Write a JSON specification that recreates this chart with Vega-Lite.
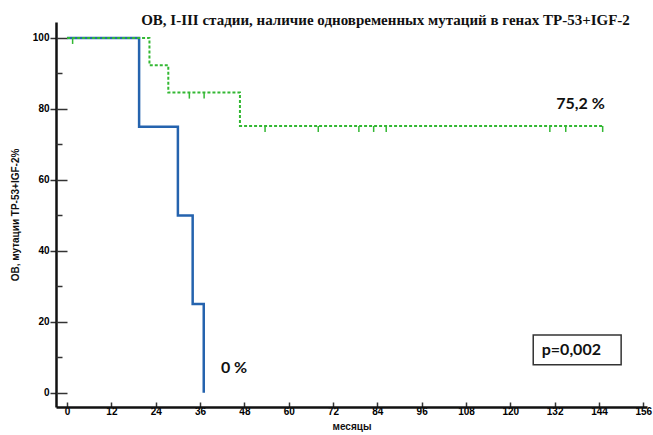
{
  "$schema": "https://vega.github.io/schema/vega-lite/v6.json",
  "width": 591,
  "height": 385,
  "autosize": "none",
  "padding": {"left": 56, "top": 22, "right": 6, "bottom": 28},
  "background": "white",
  "title": {
    "text": "ОВ, I-III  стадии, наличие одновременных мутаций в генах TP-53+IGF-2",
    "font": "Liberation Serif",
    "fontSize": 15,
    "fontWeight": "bold",
    "color": "#111",
    "anchor": "middle",
    "dx": 34,
    "offset": -6
  },
  "config": {
    "view": {"stroke": null},
    "axis": {
      "labelFont": "Liberation Sans",
      "labelFontWeight": "bold",
      "labelFontSize": 10,
      "labelColor": "#000",
      "titleFont": "Liberation Sans",
      "titleFontWeight": "bold",
      "titleFontSize": 10,
      "titleColor": "#111",
      "grid": false,
      "domainColor": "#111",
      "domainWidth": 2.5,
      "tickColor": "#333",
      "tickWidth": 1.5
    }
  },
  "datasets": {
    "blue": [
      {"t": 0, "s": 100},
      {"t": 19.5, "s": 75},
      {"t": 30, "s": 50},
      {"t": 34, "s": 25},
      {"t": 37, "s": 0}
    ],
    "green": [
      {"t": 0, "s": 100},
      {"t": 22.3, "s": 92.3},
      {"t": 27.4, "s": 84.6},
      {"t": 46.8, "s": 75.2},
      {"t": 145, "s": 75.2}
    ],
    "censor": [
      {"t": 1.5, "s": 100},
      {"t": 33.1, "s": 84.6},
      {"t": 37.1, "s": 84.6},
      {"t": 53.6, "s": 75.2},
      {"t": 68, "s": 75.2},
      {"t": 79, "s": 75.2},
      {"t": 83, "s": 75.2},
      {"t": 86.4, "s": 75.2},
      {"t": 130.7, "s": 75.2},
      {"t": 135, "s": 75.2},
      {"t": 145, "s": 75.2}
    ],
    "labels": [
      {"t": 139, "s": 81.4, "label": "75,2 %"},
      {"t": 45.2, "s": 7, "label": "0 %"}
    ],
    "pbox": [
      {"t1": 126.2, "t2": 150, "s1": 7.9, "s2": 16.3, "tl": 128.5, "sl": 12.1, "label": "p=0,002"}
    ]
  },
  "layer": [
    {
      "data": {"name": "pbox"},
      "mark": {"type": "rect", "fill": "white", "stroke": "#333", "strokeWidth": 1.5},
      "encoding": {
        "x": {"field": "t1", "type": "quantitative", "scale": {"domain": [-3, 157], "nice": false, "zero": false},
          "axis": {"values": [0,12,24,36,48,60,72,84,96,108,120,132,144,156], "tickSize": -5, "labelPadding": 4, "title": "месяцы", "titlePadding": 5}},
        "x2": {"field": "t2"},
        "y": {"field": "s1", "type": "quantitative", "scale": {"domain": [-4, 104.5], "nice": false, "zero": false},
          "axis": {"orient": "left", "values": [0,20,40,60,80,100], "tickSize": 6, "labelPadding": 1, "title": "ОВ, мутации TP-53+IGF-2%", "titlePadding": 12}},
        "y2": {"field": "s2"}
      }
    },
    {
      "data": {"name": "pbox"},
      "mark": {"type": "text", "align": "left", "baseline": "middle", "font": "Lato", "fontWeight": "bold", "fontSize": 16, "color": "#111"},
      "encoding": {
        "x": {"field": "tl", "type": "quantitative", "axis": null},
        "y": {"field": "sl", "type": "quantitative",
          "axis": {"orient": "left", "values": [0,20,40,60,80,100], "tickSize": -11, "labels": false, "domain": false, "title": null}},
        "text": {"field": "label"}
      }
    },
    {
      "data": {"name": "blue"},
      "mark": {"type": "line", "interpolate": "step-after", "color": "#2563ae", "strokeWidth": 2.5},
      "encoding": {
        "x": {"field": "t", "type": "quantitative", "axis": null},
        "y": {"field": "s", "type": "quantitative",
          "axis": {"orient": "left", "values": [10,30,50,70,90], "tickSize": -6, "labels": false, "domain": false, "title": null}}
      }
    },
    {
      "data": {"name": "green"},
      "mark": {"type": "line", "interpolate": "step-after", "color": "#33b833", "strokeWidth": 2, "strokeDash": [3, 2]},
      "encoding": {
        "x": {"field": "t", "type": "quantitative", "axis": null},
        "y": {"field": "s", "type": "quantitative", "axis": null}
      }
    },
    {
      "data": {"name": "censor"},
      "mark": {"type": "point", "shape": "M0,0L0,1", "size": 144, "filled": false, "stroke": "#33b833", "strokeWidth": 1.5, "opacity": 1},
      "encoding": {
        "x": {"field": "t", "type": "quantitative", "axis": null},
        "y": {"field": "s", "type": "quantitative", "axis": null}
      }
    },
    {
      "data": {"name": "labels"},
      "mark": {"type": "text", "align": "center", "baseline": "middle", "font": "Lato", "fontWeight": "bold", "fontSize": 16, "color": "#111"},
      "encoding": {
        "x": {"field": "t", "type": "quantitative", "axis": null},
        "y": {"field": "s", "type": "quantitative", "axis": null},
        "text": {"field": "label"}
      }
    }
  ],
  "resolve": {"axis": {"x": "independent", "y": "independent"}}
}
